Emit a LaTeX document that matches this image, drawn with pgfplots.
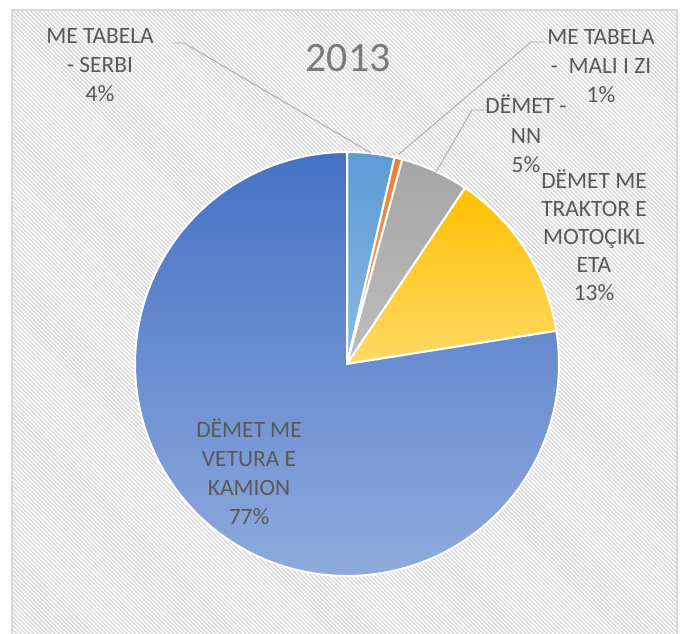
\documentclass[border=0pt]{standalone}
\usepackage{fontspec}
\setmainfont{Carlito}
\usepackage{pgfplots}
\pgfplotsset{compat=1.18}
\usepackage{pgfplotstable}
\usetikzlibrary{patterns.meta}

\definecolor{lbl}{HTML}{595959}
\definecolor{ttl}{HTML}{7A7A7A}
\definecolor{leader}{HTML}{A6A6A6}
\definecolor{frame}{HTML}{D9D9D9}
\definecolor{hatch}{HTML}{D6D6D6}
\definecolor{vtop}{HTML}{4472C4}
\definecolor{vbot}{HTML}{8FAADC}
\definecolor{stop}{HTML}{5B9BD5}
\definecolor{sbot}{HTML}{8DB8E2}
\definecolor{otop}{HTML}{ED7D31}
\definecolor{obot}{HTML}{F4B183}
\definecolor{gtop}{HTML}{A5A5A5}
\definecolor{gbot}{HTML}{BDBDBD}
\definecolor{ytop}{HTML}{FFC000}
\definecolor{ybot}{HTML}{FFD966}

\pgfplotstableread{
name value
Serbi 3.6
MaliIZi 0.6
NN 5.2
Traktor 13.1
Vetura 77.5
}\piedata

\newcommand\pstart{90}
\newcommand{\pieslice}[4]{%
  \pgfplotstablegetelem{#1}{value}\of\piedata
  \pgfmathsetmacro{\pend}{\pstart-3.6*\pgfplotsretval}%
  \edef\temp{\noexpand\addplot[draw=white,line width=2bp,shade,top color=#2,bottom color=#3,domain=\pend:\pstart,samples=#4,variable=\noexpand\t] ({347+212*cos(\noexpand\t)},{270+212*sin(\noexpand\t)}) -- (axis cs:347,270) -- cycle;}%
  \temp
  \global\let\pstart\pend
}

\begin{document}
\begin{tikzpicture}
\begin{axis}[name=ax, width=688bp, height=634bp, scale only axis,
  xmin=0, xmax=688, ymin=0, ymax=634, hide axis, clip=true]
  % background frame
  \fill[white] (axis cs:12,0) rectangle (axis cs:677,624);
  \fill[pattern={Lines[angle=-45,distance=3bp,line width=1.3bp]}, pattern color=hatch] (axis cs:12,0) rectangle (axis cs:677,624);
  \draw[frame, line width=1.5bp] (axis cs:12,0) -- (axis cs:12,624) -- (axis cs:677,624) -- (axis cs:677,0);
  % pie slices (clockwise from 12 o'clock)
  \pieslice{0}{stop}{sbot}{30}
  \pieslice{1}{otop}{obot}{10}
  \pieslice{2}{gtop}{gbot}{30}
  \pieslice{3}{ytop}{ybot}{60}
  \pieslice{4}{vtop}{vbot}{200}
  % leader lines
  \draw[leader, line width=0.8bp] (axis cs:172,591) -- (axis cs:184,591) -- (axis cs:371,481);
  \draw[leader, line width=0.8bp] (axis cs:544,592) -- (axis cs:531,592) -- (axis cs:399,480);
  \draw[leader, line width=0.8bp] (axis cs:486,524) -- (axis cs:472,524) -- (axis cs:436,462);
  % title
  \node[ttl, font=\fontsize{42}{48}\selectfont] at (axis cs:348,576) {2013};
  % labels
  \node[lbl, align=center, font=\fontsize{23.5}{29.5}\selectfont] at (axis cs:100,569) {ME TABELA\\- SERBI\\4\%};
  \node[lbl, align=center, font=\fontsize{23.5}{29.5}\selectfont] at (axis cs:601,568) {ME TABELA\\-\ \ MALI I ZI\\1\%};
  \node[lbl, align=center, font=\fontsize{23.5}{29.5}\selectfont] at (axis cs:526,500) {DËMET -\\NN\\5\%};
  \node[lbl, align=center, font=\fontsize{23.5}{28}\selectfont] at (axis cs:594,399) {DËMET ME\\TRAKTOR E\\MOTOÇIKL\\ETA\\13\%};
  \node[lbl, align=center, font=\fontsize{23.5}{29}\selectfont] at (axis cs:249,162) {DËMET ME\\VETURA E\\KAMION\\77\%};
\end{axis}
\pgfresetboundingbox
\path (ax.south west) rectangle (ax.north east);
\end{tikzpicture}
\end{document}
